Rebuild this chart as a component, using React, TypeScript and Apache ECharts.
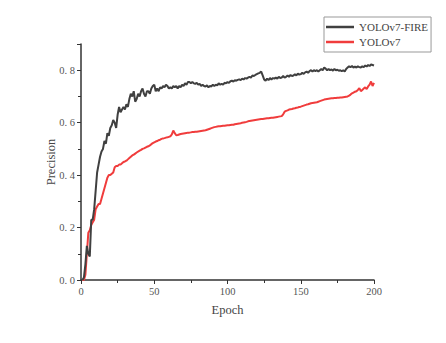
import React, { useEffect, useRef } from "react";
import * as echarts from "echarts";

const fireValues = [
  0.00, 0.01, 0.06, 0.13, 0.10, 0.09, 0.23, 0.23, 0.27, 0.34,
  0.41, 0.44, 0.47, 0.49, 0.50, 0.53, 0.52, 0.56, 0.55, 0.58,
  0.59, 0.61, 0.60, 0.58, 0.63, 0.66, 0.64, 0.65, 0.66, 0.65,
  0.67, 0.66, 0.69, 0.71, 0.70, 0.72, 0.68, 0.69, 0.71, 0.70,
  0.72, 0.73, 0.71, 0.70, 0.72, 0.72, 0.71, 0.73, 0.74, 0.745,
  0.72, 0.73, 0.72, 0.735, 0.73, 0.74, 0.735, 0.745, 0.74, 0.73,
  0.735, 0.73, 0.74, 0.735, 0.74, 0.73, 0.74, 0.735, 0.745, 0.74,
  0.75, 0.745, 0.755, 0.755, 0.75, 0.755, 0.75, 0.748, 0.752, 0.745,
  0.748, 0.74, 0.745, 0.74, 0.738, 0.742, 0.735, 0.74, 0.738, 0.745,
  0.74, 0.745, 0.742, 0.75, 0.745, 0.748, 0.745, 0.752, 0.75, 0.755,
  0.752, 0.758, 0.76, 0.757, 0.762, 0.76, 0.763, 0.765, 0.762, 0.768,
  0.765, 0.77, 0.768, 0.772, 0.775, 0.772, 0.78, 0.778, 0.782, 0.785,
  0.788, 0.79, 0.795, 0.78, 0.765, 0.76, 0.768, 0.762, 0.77, 0.765,
  0.77, 0.768, 0.772, 0.768, 0.775, 0.77, 0.772, 0.778, 0.772, 0.775,
  0.78, 0.775, 0.782, 0.778, 0.78, 0.785, 0.78, 0.787, 0.783, 0.785,
  0.79, 0.786, 0.792, 0.795, 0.79, 0.797, 0.80, 0.795, 0.80, 0.797,
  0.80, 0.795, 0.80, 0.805, 0.80, 0.81, 0.806, 0.80, 0.805, 0.80,
  0.803, 0.798, 0.805, 0.80, 0.802, 0.798, 0.80, 0.796, 0.80, 0.795,
  0.805, 0.81, 0.815, 0.812, 0.816, 0.81, 0.814, 0.81, 0.815, 0.812,
  0.81, 0.815, 0.812, 0.818, 0.814, 0.82, 0.816, 0.822, 0.82, 0.818,
];

const baseValues = [
  0.00, 0.00, 0.02, 0.10, 0.18, 0.19, 0.21, 0.22, 0.23, 0.27,
  0.28, 0.29, 0.29, 0.31, 0.33, 0.35, 0.37, 0.39, 0.40, 0.40,
  0.405, 0.41, 0.43, 0.435, 0.435, 0.44, 0.44, 0.445, 0.45, 0.452,
  0.455, 0.46, 0.465, 0.47, 0.475, 0.478, 0.482, 0.486, 0.49, 0.493,
  0.496, 0.50, 0.502, 0.505, 0.508, 0.51, 0.513, 0.518, 0.522, 0.525,
  0.528, 0.53, 0.533, 0.535, 0.538, 0.54, 0.541, 0.543, 0.544, 0.546,
  0.548, 0.555, 0.57, 0.56, 0.552, 0.553, 0.555, 0.557, 0.558, 0.559,
  0.56, 0.561, 0.562, 0.562, 0.563, 0.564, 0.564, 0.565, 0.565, 0.566,
  0.567, 0.568, 0.569, 0.57, 0.571, 0.573, 0.575, 0.577, 0.579, 0.581,
  0.583, 0.584, 0.585, 0.586, 0.586, 0.587, 0.588, 0.588, 0.589, 0.59,
  0.59, 0.591, 0.592, 0.592, 0.594, 0.595, 0.596, 0.597, 0.598, 0.60,
  0.601, 0.602, 0.603, 0.605, 0.606, 0.607, 0.608, 0.609, 0.61, 0.611,
  0.612, 0.613, 0.614, 0.614, 0.615, 0.616, 0.617, 0.617, 0.618, 0.619,
  0.619, 0.62, 0.621, 0.622, 0.623, 0.624, 0.625, 0.632, 0.642, 0.645,
  0.647, 0.65, 0.651, 0.652, 0.654, 0.655, 0.657, 0.658, 0.66, 0.661,
  0.663, 0.665, 0.667, 0.669, 0.67, 0.672, 0.674, 0.675, 0.676, 0.677,
  0.678, 0.68, 0.682, 0.684, 0.686, 0.688, 0.689, 0.69, 0.691, 0.692,
  0.693, 0.693, 0.694, 0.694, 0.695, 0.695, 0.696, 0.696, 0.697, 0.698,
  0.699, 0.70, 0.703, 0.707, 0.712, 0.715, 0.718, 0.72, 0.725, 0.732,
  0.72, 0.725, 0.73, 0.735, 0.728, 0.738, 0.745, 0.757, 0.74, 0.752,
];

const epochs = fireValues.map((_, i) => i + 1);
const seriesNames = ["YOLOv7-FIRE", "YOLOv7"];
const xTicks = [0, 50, 100, 150, 200];
const yTicks = [0.0, 0.2, 0.4, 0.6, 0.8];

const FONT = "'Liberation Serif', 'DejaVu Serif', serif";

export default function App() {
  const ref = useRef<HTMLDivElement>(null);
  useEffect(() => {
    if (!ref.current) return;
    const chart = echarts.init(ref.current, undefined, { renderer: "svg" });
    const axisColor = "#333";
    chart.setOption({
      animation: false,
      backgroundColor: "#fff",
      textStyle: { fontFamily: FONT },
      grid: { left: 81, right: 72, top: 44, bottom: 63, containLabel: false },
      legend: {
        orient: "vertical",
        left: 324,
        top: 17,
        data: seriesNames.map((n) => ({ name: n, icon: "rect" })),
        borderColor: "#999",
        borderWidth: 1,
        borderRadius: 0,
        padding: [3, 3, 3, 2],
        itemGap: 1,
        itemWidth: 28,
        itemHeight: 2.5,
        textStyle: { fontFamily: FONT, fontSize: 11, color: "#444", lineHeight: 14 },
      },
      xAxis: {
        type: "value",
        min: xTicks[0],
        max: xTicks[xTicks.length - 1],
        interval: 50,
        name: "Epoch",
        nameLocation: "middle",
        nameGap: 23,
        nameMoveOverlap: false,
        nameTextStyle: { fontFamily: FONT, fontSize: 12.5, color: "#444" },
        axisLine: { show: true, lineStyle: { color: axisColor, width: 1.5 } },
        axisTick: { show: true, length: 4, lineStyle: { color: axisColor } },
        minorTick: { show: true, splitNumber: 2, length: 3, lineStyle: { color: axisColor } },
        splitLine: { show: false },
        axisLabel: { fontFamily: FONT, fontSize: 10.5, color: "#555", margin: 6 },
      },
      yAxis: {
        type: "value",
        min: 0,
        max: 0.9,
        interval: 0.2,
        name: "Precision",
        nameLocation: "middle",
        nameGap: 24,
        nameMoveOverlap: false,
        nameTextStyle: { fontFamily: FONT, fontSize: 12.5, color: "#444" },
        axisLine: { show: true, lineStyle: { color: axisColor, width: 1.5 } },
        axisTick: { show: true, length: 4, lineStyle: { color: axisColor } },
        minorTick: { show: true, splitNumber: 2, length: 3, lineStyle: { color: axisColor } },
        splitLine: { show: false },
        axisLabel: {
          fontFamily: FONT,
          fontSize: 10.5,
          color: "#555",
          margin: 6,
          formatter: (v: number) => (yTicks.some((t) => Math.abs(t - v) < 1e-6) ? v.toFixed(1).replace(".", ". ") : ""),
        },
      },
      series: [
        {
          name: seriesNames[0],
          type: "line",
          data: epochs.map((e, i) => [e, fireValues[i]]),
          symbol: "none",
          lineStyle: { color: "#404040", width: 2 },
          itemStyle: { color: "#404040" },
          z: 3,
        },
        {
          name: seriesNames[1],
          type: "line",
          data: epochs.map((e, i) => [e, baseValues[i]]),
          symbol: "none",
          lineStyle: { color: "#f03c3c", width: 2 },
          itemStyle: { color: "#f03c3c" },
          z: 2,
        },
      ],
    });
    return () => chart.dispose();
  }, []);
  return (
    <div
      ref={ref}
      style={{ position: "fixed", left: 0, top: 0, width: 446, height: 343 }}
    />
  );
}
